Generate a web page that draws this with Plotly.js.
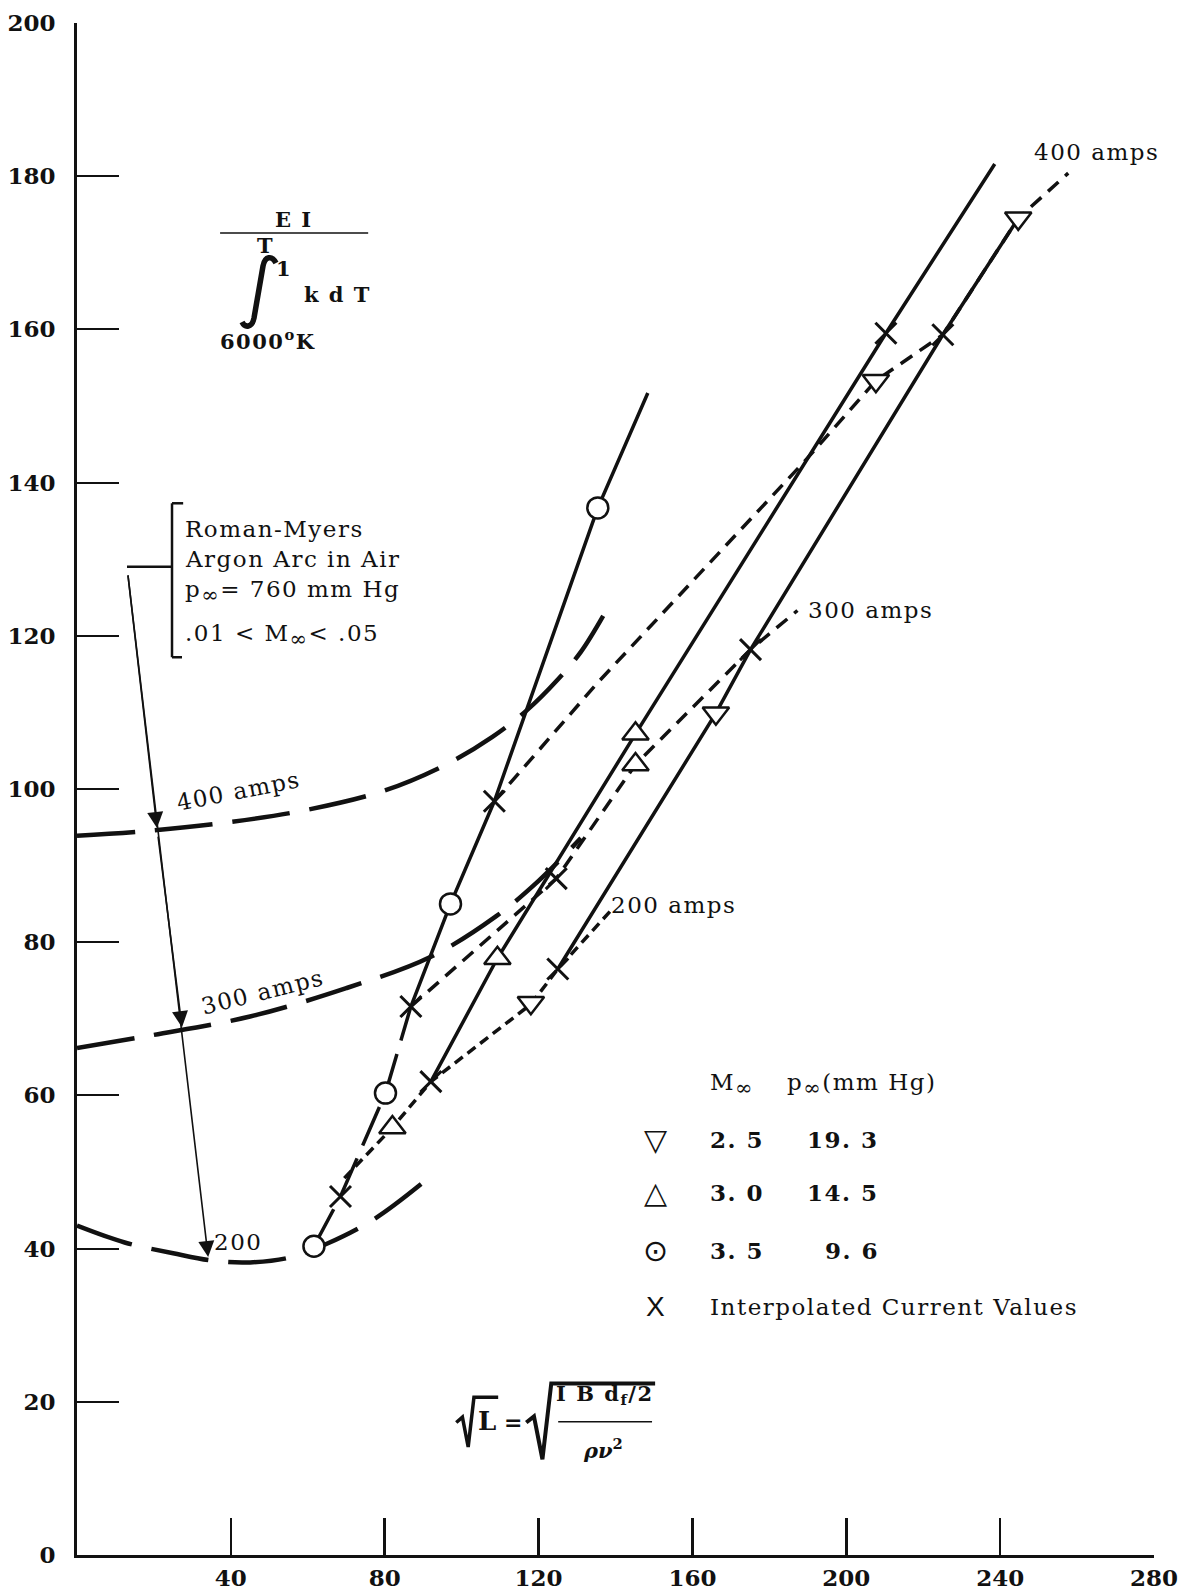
<!DOCTYPE html>
<html><head><meta charset="utf-8">
<script src="https://cdn.plot.ly/plotly-3.0.1.min.js"></script>
<style>html,body{margin:0;padding:0;background:#fff}</style>
</head><body><div id="chart" style="width:1184px;height:1595px"></div>
<script>
// ---- Roman-Myers argon arc curves (long dashes) ----
const rm400X = [0, 20, 40, 60, 80, 96, 108, 117, 125, 131, 136.8];
const rm400Y = [93.9, 94.6, 95.7, 97.3, 99.8, 103.2, 106.8, 110.3, 114.3, 117.9, 122.6];
const rm300X = [0, 20, 45, 70, 92, 109, 120, 131];
const rm300Y = [66.2, 67.9, 70.3, 74.0, 78.1, 83.4, 88.0, 93.6];
const rm200X = [0, 12.4, 25, 35.7, 45, 55, 64.8, 77.4, 92.1];
const rm200Y = [43.0, 40.8, 39.4, 38.4, 38.2, 38.8, 40.6, 43.9, 49.5];

// ---- experimental lines, one per Mach number ----
const m35DashX = [61.6, 68.5, 80.2, 86.8];
const m35DashY = [40.3, 46.8, 60.3, 71.6];
const m35SolidX = [86.8, 97.1, 108.5, 135.4, 148.4];
const m35SolidY = [71.6, 85.0, 98.4, 136.7, 151.7];
const m30X = [92, 109.3, 145.2, 210.3, 238.6];
const m30Y = [61.8, 77.9, 107.2, 159.5, 181.6];
const m25X = [125, 166.1, 175.1, 225.1, 244.7];
const m25Y = [76.5, 109.9, 118.2, 159.3, 174.5];

// ---- interpolated constant-current lines (short dashes) ----
const i400X = [108.5, 135.4, 189.2, 207.7, 225.1, 244.7, 257.7];
const i400Y = [98.4, 113.9, 142.8, 153.3, 159.3, 174.5, 180.4];
const i300X = [86.8, 124.6, 145.2, 175.1, 187.3];
const i300Y = [71.6, 88.3, 103.2, 118.2, 123.3];
const i200X = [69.5, 82, 92, 118, 125, 138.9];
const i200Y = [49.2, 55.8, 61.8, 71.9, 76.5, 84.2];

// ---- data points ----
const m25PtsX = [118, 166.1, 207.7, 244.7];
const m25PtsY = [72.1, 109.9, 153.3, 174.5];
const m30PtsX = [82, 109.3, 145.2, 145.2];
const m30PtsY = [55.8, 77.9, 107.2, 103.2];
const m35PtsX = [61.6, 80.2, 97.1, 135.4];
const m35PtsY = [40.3, 60.3, 85.0, 136.7];
const interpX = [68.5, 86.8, 92, 108.5, 124.6, 125, 175.1, 210.3, 225.1];
const interpY = [46.8, 71.6, 61.8, 98.4, 88.3, 76.5, 118.2, 159.5, 159.3];

// ---- axis ticks ----
const xTicks = [40, 80, 120, 160, 200, 240, 280];
const xTickText = ['40', '80', '120', '160', '200', '240', '280'];
const yTicks = [0, 20, 40, 60, 80, 100, 120, 140, 160, 180, 200];
const yTickText = ['0', '20', '40', '60', '80', '100', '120', '140', '160', '180', '200'];

// ---- legend table ----
const legSymbols = ['▽', '△', '⊙', 'X'];
const legMach = ['2. 5', '3. 0', '3. 5'];
const legPress = ['19. 3', '14. 5', '9. 6'];

const INK = '#111';
function ln(x, y, width, dash, shape) {
  return {x: x, y: y, type: 'scatter', mode: 'lines', hoverinfo: 'skip',
    line: {color: INK, width: width, dash: dash || 'solid', shape: shape || 'linear', smoothing: 1}};
}
function mk(x, y, symbol, size, lw) {
  return {x: x, y: y, type: 'scatter', mode: 'markers', hoverinfo: 'skip', cliponaxis: false,
    marker: {symbol: symbol, size: size, color: symbol.indexOf('x') === 0 ? INK : '#fff',
      line: {color: INK, width: lw}}};
}
const RMD = '58px,20px';
const traces = [
  ln(rm400X, rm400Y, 4.5, RMD, 'spline'),
  ln(rm300X, rm300Y, 4.5, RMD, 'spline'),
  ln(rm200X, rm200Y, 4.5, RMD, 'spline'),
  ln(m35DashX, m35DashY, 3.5, '42px,14px'),
  ln(m35SolidX, m35SolidY, 3.5),
  ln(m30X, m30Y, 3.5),
  ln(m25X, m25Y, 3.5),
  ln(i400X, i400Y, 3.5, '14px,9px'),
  ln(i300X, i300Y, 3.5, '14px,9px'),
  ln(i200X, i200Y, 3.5, '10px,6px'),
  mk(m25PtsX, m25PtsY, 'triangle-down', 23, 2.5),
  mk(m30PtsX, m30PtsY, 'triangle-up', 23, 2.5),
  mk(m35PtsX, m35PtsY, 'circle', 21, 2.5),
  mk(interpX, interpY, 'x-thin-open', 21, 3)
];

const SERIF = 'DejaVu Serif';
const INF = '<sub><span style="font-size:21px">∞</span></sub>';
function ann(x, y, text, o) {
  o = o || {};
  return Object.assign({x: x, y: y, xref: 'x', yref: 'y', text: text, showarrow: false,
    font: {family: SERIF, size: o.size || 23, color: INK, weight: o.weight || 400},
    xanchor: o.xanchor || 'center', yanchor: o.yanchor || 'middle', textangle: o.angle || 0}, o.extra || {});
}
function sp(t) { return '<span style="letter-spacing:1.5px">' + t + '</span>'; }
function arrow(x, y, ax, ay) {
  return {x: x, y: y, ax: ax, ay: ay, xref: 'x', yref: 'y', axref: 'x', ayref: 'y', text: ' ',
    showarrow: true, arrowhead: 2, arrowsize: 2, arrowwidth: 1.6, arrowcolor: INK, standoff: 0};
}
function glyph(x, y, g, fam, size, weight) {
  return ann(x, y, g, {extra: {font: {family: fam, size: size, color: INK, weight: weight}}});
}
const annotations = [
  ann(41.9, 99.7, sp('400 amps'), {angle: -11}),
  ann(48.1, 73.5, sp('300 amps'), {angle: -14}),
  ann(41.9, 40.9, sp('200')),
  ann(265, 183.1, sp('400 amps')),
  ann(206.2, 123.4, sp('300 amps')),
  ann(155.2, 84.9, sp('200 amps')),
  ann(27.6, 133.9, sp('Roman-Myers'), {xanchor: 'left'}),
  ann(27.6, 130.0, sp('Argon Arc in Air'), {xanchor: 'left'}),
  ann(27.6, 125.8, sp('p' + INF + '= 760 mm Hg'), {xanchor: 'left'}),
  ann(27.6, 120.0, sp('.01 &lt; M' + INF + '&lt; .05'), {xanchor: 'left'}),
  // top-left ordinate formula
  ann(56.5, 174.4, sp('E I'), {size: 21, weight: 700}),
  ann(48.9, 171.0, 'T', {size: 21, weight: 700}),
  ann(53.6, 168.0, '1', {size: 21, weight: 700}),
  ann(67.6, 164.5, sp('k d T'), {size: 21, weight: 700}),
  ann(49.6, 158.6, sp('6000<sup>o</sup>K'), {size: 21, weight: 700}),
  // bottom abscissa formula
  ann(106.6, 17.5, 'L', {size: 26, weight: 700}),
  ann(113.4, 17.3, '=', {size: 22, weight: 700}),
  ann(137.3, 20.9, sp('I B d<sub>f</sub>/2'), {size: 21, weight: 700}),
  ann(136.8, 13.9, '<i>ρν</i><sup>2</sup>', {size: 21, weight: 700}),
  // legend
  ann(164.1, 61.4, sp('M' + INF), {xanchor: 'left'}),
  ann(184.1, 61.4, sp('p' + INF + '(mm Hg)'), {xanchor: 'left'}),
  ann(164.1, 54.2, sp(legMach[0]), {xanchor: 'left', weight: 700}),
  ann(164.1, 47.3, sp(legMach[1]), {xanchor: 'left', weight: 700}),
  ann(164.1, 39.7, sp(legMach[2]), {xanchor: 'left', weight: 700}),
  ann(209.0, 54.2, sp(legPress[0]), {xanchor: 'right', weight: 700}),
  ann(209.0, 47.3, sp(legPress[1]), {xanchor: 'right', weight: 700}),
  ann(209.0, 39.7, sp(legPress[2]), {xanchor: 'right', weight: 700}),
  ann(164.1, 32.4, sp('Interpolated Current Values'), {xanchor: 'left'}),
  glyph(150.5, 54.2, legSymbols[0], 'DejaVu Sans', 30, 700),
  glyph(150.5, 47.3, legSymbols[1], 'DejaVu Sans', 30, 700),
  glyph(150.5, 39.7, legSymbols[2], 'DejaVu Sans', 30, 400),
  glyph(150.5, 32.4, legSymbols[3], 'Liberation Sans', 28, 400),
  arrow(20.8, 94.9, 13, 129),
  arrow(27.3, 68.9, 20.8, 94.9),
  arrow(34.1, 38.9, 13, 129)
];

function seg(x0, y0, x1, y1, w) {
  return {type: 'line', xref: 'x', yref: 'y', x0: x0, y0: y0, x1: x1, y1: y1, line: {color: INK, width: w}};
}
function path(p, w) {
  return {type: 'path', xref: 'x', yref: 'y', path: p, line: {color: INK, width: w}};
}
const shapes = [
  // bracket
  seg(24.7, 137.3, 24.7, 117.2, 2.5),
  seg(24.7, 137.3, 27.6, 137.3, 2.5),
  seg(24.7, 117.2, 27.3, 117.2, 2.5),
  seg(13.0, 129.0, 24.7, 129.0, 2.5),
  // top formula fraction bar and integral sign
  seg(37.2, 172.6, 75.7, 172.6, 1.5),
  path('M 51.74,168.67 C 50.70,169.71 48.88,169.58 48.36,168.28 L 46.02,161.49 C 45.50,160.18 43.68,160.18 42.90,160.97', 5.5),
  // bottom formula radicals and fraction bar
  path('M 98.6,17.3 L 100.2,18.0 L 101.7,14.1 L 103.2,20.6 L 109.5,20.6', 3.5),
  path('M 116.8,17.3 L 118.8,18.1 L 121.0,12.5 L 123.3,22.4 L 150.3,22.4', 4),
  seg(125.1, 17.4, 149.5, 17.4, 1.5)
];

const axisFont = {family: SERIF, size: 23, color: INK, weight: 700};
const layout = {
  width: 1184, height: 1595,
  margin: {l: 77, r: 30, t: 23, b: 40, pad: 0},
  paper_bgcolor: '#fff', plot_bgcolor: '#fff',
  showlegend: false,
  font: {family: SERIF, color: INK},
  xaxis: {range: [0, 280], tickmode: 'array', tickvals: xTicks, ticktext: xTickText,
    ticks: 'inside', ticklen: 37, tickwidth: 2.5, tickcolor: INK,
    showline: true, linewidth: 3, linecolor: INK, showgrid: false, zeroline: false,
    tickfont: axisFont, ticklabelstandoff: 0, fixedrange: true},
  yaxis: {range: [0, 200], tickmode: 'array', tickvals: yTicks, ticktext: yTickText,
    ticks: 'inside', ticklen: 42, tickwidth: 2, tickcolor: INK,
    showline: true, linewidth: 3, linecolor: INK, showgrid: false, zeroline: false,
    tickfont: axisFont, ticklabelstandoff: 14, fixedrange: true},
  annotations: annotations,
  shapes: shapes
};
Plotly.newPlot('chart', traces, layout, {displayModeBar: false, staticPlot: true});
</script></body></html>
